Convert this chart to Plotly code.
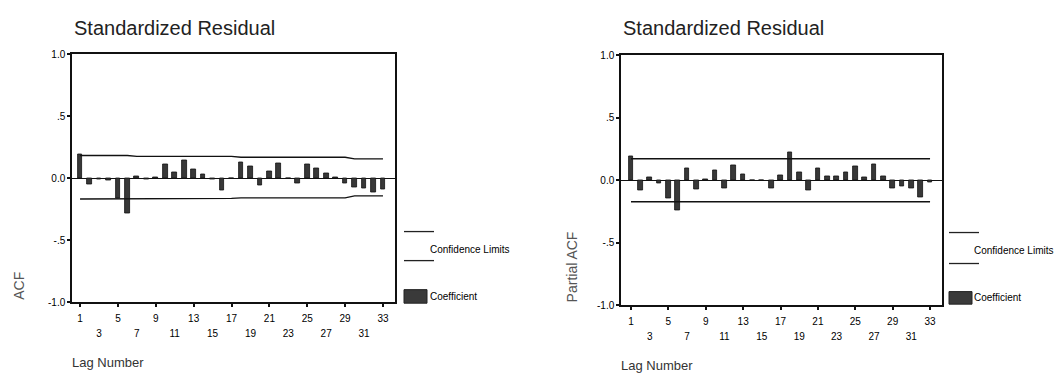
import plotly.graph_objects as go

W, H = 1062, 376

lags = list(range(1, 34))
acf = [0.19, -0.052, -0.005, -0.02, -0.164, -0.28, 0.012, -0.005, 0.005, 0.112,
       0.047, 0.148, 0.07, 0.034, -0.01, -0.098, 0.003, 0.13, 0.10, -0.06,
       0.052, 0.122, -0.004, -0.044, 0.11, 0.078, 0.04, 0.01, -0.042, -0.075,
       -0.078, -0.117, -0.088]
acf_upper = [0.184]*6 + [0.177]*11 + [0.170]*12 + [0.157]*4
acf_lower = [-0.167]*6 + [-0.162]*11 + [-0.158]*12 + [-0.142]*4

pacf = [0.189, -0.083, 0.026, -0.026, -0.142, -0.238, 0.098, -0.07, 0.005, 0.083,
        -0.062, 0.119, 0.047, 0.0, 0.002, -0.063, 0.036, 0.222, 0.067, -0.083,
        0.093, 0.034, 0.034, 0.065, 0.108, 0.02, 0.129, 0.028, -0.062, -0.05,
        -0.062, -0.134, -0.02]
pacf_upper = [0.172]*33
pacf_lower = [-0.172]*33

top_row = [1, 5, 9, 13, 17, 21, 25, 29, 33]
bottom_row = [3, 7, 11, 15, 19, 23, 27, 31]
ytick_vals = [-1, -0.5, 0, 0.5, 1]
ytick_text = ["-1.0", "-.5", "0.0", ".5", "1.0"]

title_text = "Standardized Residual"
xtitle = "Lag Number"
ytitles = ["ACF", "Partial ACF"]
legend_line_text = "Confidence Limits"
legend_bar_text = "Coefficient"

FONT = "Liberation Sans, Arial, sans-serif"
BAR_FILL = "#383838"
BAR_LINE = "#111111"
LEFT_RANGE = [0.15, 34.27]
RIGHT_RANGE = [-0.07, 34.28]


def px(x):
    return x / W


def py(y):
    return 1 - y / H


fig = go.Figure()

# left panel
fig.add_trace(go.Bar(x=lags, y=acf, width=0.5, marker=dict(color=BAR_FILL, line=dict(color=BAR_LINE, width=0.8)),
                     xaxis="x", yaxis="y", showlegend=False))
fig.add_trace(go.Scatter(x=lags, y=acf_upper, mode="lines", line=dict(color="#111", width=1.3),
                         xaxis="x", yaxis="y", showlegend=False))
fig.add_trace(go.Scatter(x=lags, y=acf_lower, mode="lines", line=dict(color="#111", width=1.3),
                         xaxis="x", yaxis="y", showlegend=False))
# right panel
fig.add_trace(go.Bar(x=lags, y=pacf, width=0.5, marker=dict(color=BAR_FILL, line=dict(color=BAR_LINE, width=0.8)),
                     xaxis="x2", yaxis="y2", showlegend=False))
fig.add_trace(go.Scatter(x=lags, y=pacf_upper, mode="lines", line=dict(color="#111", width=1.3),
                         xaxis="x2", yaxis="y2", showlegend=False))
fig.add_trace(go.Scatter(x=lags, y=pacf_lower, mode="lines", line=dict(color="#111", width=1.3),
                         xaxis="x2", yaxis="y2", showlegend=False))
# carriers for the second row of lag labels (invisible)
fig.add_trace(go.Scatter(x=bottom_row, y=[0]*len(bottom_row), mode="markers", opacity=0,
                         hoverinfo="skip", xaxis="x3", yaxis="y", showlegend=False))
fig.add_trace(go.Scatter(x=bottom_row, y=[0]*len(bottom_row), mode="markers", opacity=0,
                         hoverinfo="skip", xaxis="x4", yaxis="y2", showlegend=False))

tickfont = dict(family=FONT, size=10, color="#000")

common_x = dict(showline=True, mirror=True, linecolor="#111", linewidth=1.5, showgrid=False, zeroline=False,
                tickmode="array", tickvals=top_row, ticktext=[str(v) for v in top_row],
                ticks="outside", ticklen=3, tickwidth=2, tickcolor="#111", tickfont=tickfont,
                ticklabelstandoff=3)
common_y = dict(showline=True, mirror=True, linecolor="#111", linewidth=1.5, showgrid=False,
                zeroline=True, zerolinecolor="#111", zerolinewidth=1.2, range=[-1, 1],
                tickmode="array", tickvals=ytick_vals, ticktext=ytick_text,
                ticks="outside", ticklen=3, tickwidth=2, tickcolor="#111", tickfont=tickfont)

second_row = dict(tickmode="array", tickvals=bottom_row, ticktext=[str(v) for v in bottom_row],
                  showline=False, showgrid=False, zeroline=False, ticks="", tickfont=tickfont,
                  anchor="free", side="bottom")

fig.update_layout(
    width=W, height=H, margin=dict(l=0, r=0, t=0, b=0),
    paper_bgcolor="white", plot_bgcolor="white", bargap=0,
    xaxis=dict(domain=[px(72), px(395)], range=LEFT_RANGE, anchor="y", **common_x),
    yaxis=dict(domain=[py(306), py(50)], anchor="x", **common_y),
    xaxis2=dict(domain=[px(621), px(942)], range=RIGHT_RANGE, anchor="y2", **common_x),
    yaxis2=dict(domain=[py(309), py(51)], anchor="x2", **common_y),
    xaxis3=dict(overlaying="x", range=LEFT_RANGE, position=py(331), **second_row),
    xaxis4=dict(overlaying="x2", range=RIGHT_RANGE, position=py(334), **second_row),
)

annotations = []
shapes = []
panels = [
    dict(left=72, title_y=23, ytitle=ytitles[0], ytitle_x=19, ytitle_y=289, lag_y=368,
         lx0=404, lx1=434, ly1=233, ly2=263, ltext_x=428, ltext_y=252, bx0=404, bx1=427, by0=293, by1=307,
         btext_x=428, btext_y=300),
    dict(left=621, title_y=23, ytitle=ytitles[1], ytitle_x=572, ytitle_y=270, lag_y=371,
         lx0=949, lx1=979, ly1=234, ly2=266, ltext_x=972, ltext_y=253, bx0=949, bx1=972, by0=295, by1=308,
         btext_x=972, btext_y=301),
]
for p in panels:
    annotations.append(dict(x=px(p["left"]), y=py(p["title_y"]), xref="paper", yref="paper", text=title_text,
                            showarrow=False, xanchor="left", yanchor="middle",
                            font=dict(family=FONT, size=20, color="#222")))
    annotations.append(dict(x=px(p["ytitle_x"]), y=py(p["ytitle_y"]), xref="paper", yref="paper", text=p["ytitle"],
                            showarrow=False, textangle=-90, xanchor="center", yanchor="middle",
                            font=dict(family=FONT, size=14, color="#555")))
    annotations.append(dict(x=px(p["left"] - 2), y=py(p["lag_y"]), xref="paper", yref="paper", text=xtitle,
                            showarrow=False, xanchor="left", yanchor="middle",
                            font=dict(family=FONT, size=13, color="#333")))
    for ly in (p["ly1"], p["ly2"]):
        shapes.append(dict(type="line", xref="paper", yref="paper", x0=px(p["lx0"]), x1=px(p["lx1"]),
                           y0=py(ly), y1=py(ly), line=dict(color="#222", width=1.3)))
    annotations.append(dict(x=px(p["ltext_x"]), y=py(p["ltext_y"]), xref="paper", yref="paper",
                            text=legend_line_text, showarrow=False, xanchor="left", yanchor="middle",
                            font=dict(family=FONT, size=10, color="#000")))
    shapes.append(dict(type="rect", xref="paper", yref="paper", x0=px(p["bx0"]), x1=px(p["bx1"]),
                       y0=py(p["by1"]), y1=py(p["by0"]), fillcolor="#3a3a3a", line=dict(color="#222", width=1)))
    annotations.append(dict(x=px(p["btext_x"]), y=py(p["btext_y"]), xref="paper", yref="paper",
                            text=legend_bar_text, showarrow=False, xanchor="left", yanchor="middle",
                            font=dict(family=FONT, size=10, color="#000")))

fig.update_layout(annotations=annotations, shapes=shapes)
fig.write_html("out.html")
